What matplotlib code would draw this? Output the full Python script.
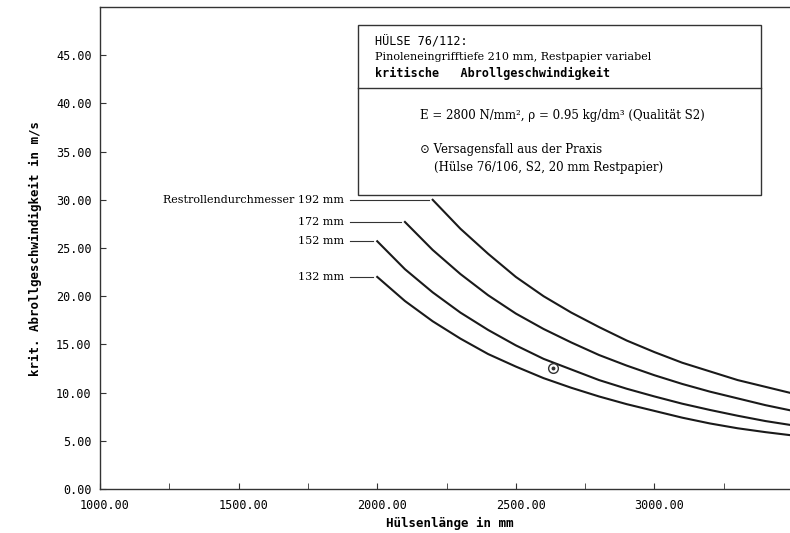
import matplotlib
matplotlib.use("Agg")
import matplotlib.pyplot as plt
import matplotlib.transforms as mtransforms
from matplotlib.patches import Rectangle
from matplotlib.lines import Line2D

# ---- data ----
x_192 = [2200, 2300, 2400, 2500, 2600, 2700, 2800, 2900, 3000, 3100, 3200, 3300, 3400, 3500]
y_192 = [30.0, 27.0, 24.4, 22.0, 20.0, 18.3, 16.8, 15.4, 14.2, 13.1, 12.2, 11.3, 10.6, 9.9]

x_172 = [2100, 2200, 2300, 2400, 2500, 2600, 2700, 2800, 2900, 3000, 3100, 3200, 3300, 3400, 3500]
y_172 = [27.7, 24.8, 22.3, 20.1, 18.2, 16.6, 15.2, 13.9, 12.8, 11.8, 10.9, 10.1, 9.4, 8.7, 8.1]

x_152 = [2000, 2100, 2200, 2300, 2400, 2500, 2600, 2700, 2800, 2900, 3000, 3100, 3200, 3300, 3400, 3500]
y_152 = [25.7, 22.8, 20.4, 18.3, 16.5, 14.9, 13.5, 12.4, 11.3, 10.4, 9.6, 8.85, 8.2, 7.6, 7.05, 6.6]

x_132 = [2000, 2100, 2200, 2300, 2400, 2500, 2600, 2700, 2800, 2900, 3000, 3100, 3200, 3300, 3400, 3500]
y_132 = [22.0, 19.5, 17.4, 15.6, 14.0, 12.7, 11.5, 10.5, 9.6, 8.8, 8.1, 7.4, 6.8, 6.3, 5.9, 5.55]

curve_labels = ["Restrollendurchmesser 192 mm", "172 mm", "152 mm", "132 mm"]

failure_x = [2635]
failure_y = [12.6]

x_ticks = [1000, 1500, 2000, 2500, 3000]
x_minor = [1250, 1750, 2250, 2750, 3250]
y_ticks = [0, 5, 10, 15, 20, 25, 30, 35, 40, 45]

W, H = 790, 533
fig = plt.figure(figsize=(W / 100, H / 100), dpi=100)
# axes: left 100px, top 7px, bottom 489px, right beyond image
ax = fig.add_axes([100 / W, (H - 489) / H, 700 / W, (489 - 7) / H])
ax.set_xlim(1000, 3525)
ax.set_ylim(0, 50)

mono = "DejaVu Sans Mono"
serif = "DejaVu Serif"

ax.spines["right"].set_visible(False)
for s in ["left", "bottom", "top"]:
    ax.spines[s].set_linewidth(1.0)
    ax.spines[s].set_color("#333333")

ax.set_xticks(x_ticks)
ax.set_xticklabels([f"{v:.2f}" for v in x_ticks], family=mono, fontsize=8.5)
ax.set_xticks(x_minor, minor=True)
ax.set_yticks(y_ticks)
ax.set_yticklabels([f"{v:.2f}" for v in y_ticks], family=mono, fontsize=8.5)
ax.tick_params(axis="both", which="both", direction="in", length=4, color="#333333")
ax.tick_params(axis="x", pad=7)
ax.tick_params(axis="y", pad=6)
shift = mtransforms.ScaledTranslation(5 / 100, 0, fig.dpi_scale_trans)
for lab in ax.get_xticklabels():
    lab.set_transform(lab.get_transform() + shift)

ax.set_xlabel("Hülsenlänge in mm", family=mono, fontweight="bold", fontsize=9, labelpad=4)
ax.set_ylabel("krit. Abrollgeschwindigkeit in m/s", family=mono, fontweight="bold",
              fontsize=9, labelpad=10)

lw = 1.5
for xs, ys in [(x_192, y_192), (x_172, y_172), (x_152, y_152), (x_132, y_132)]:
    ax.plot(xs, ys, color="#1a1a1a", lw=lw, solid_joinstyle="round")

# leader lines and labels
starts = [(x_192[0], y_192[0]), (x_172[0], y_172[0]), (x_152[0], y_152[0]), (x_132[0], y_132[0])]
for lab, (sx, sy) in zip(curve_labels, starts):
    ax.plot([1900, sx - 15], [sy, sy], color="#333333", lw=0.8)
    ax.text(1880, sy, lab, family=serif, fontsize=8, ha="right", va="center")

# failure case marker
ax.plot(failure_x, failure_y, marker="o", ms=7, mfc="white", mec="#333333", mew=1.0, ls="none")
ax.plot(failure_x, failure_y, marker="o", ms=1.8, color="#333333", ls="none")

# info box (figure pixel positions)
def fx(px):
    return px / W

def fy(py):
    return 1 - py / H

box = Rectangle((fx(358), fy(195)), fx(761) - fx(358), fy(25) - fy(195),
                transform=fig.transFigure, fill=True, facecolor="white",
                edgecolor="#333333", lw=1.0, zorder=5)
fig.patches.append(box)
fig.lines.append(Line2D([fx(358), fx(761)], [fy(88), fy(88)], transform=fig.transFigure,
                        color="#333333", lw=1.0, zorder=6))

fig.text(fx(375), fy(42), "HÜLSE 76/112:", family=mono, fontsize=8.5, va="center", zorder=7)
fig.text(fx(375), fy(57), "Pinoleneingrifftiefe 210 mm, Restpapier variabel", family=serif,
         fontsize=8, va="center", zorder=7)
fig.text(fx(375), fy(73), "kritische   Abrollgeschwindigkeit", family=mono, fontweight="bold",
         fontsize=8.5, va="center", zorder=7)
fig.text(fx(420), fy(116), "E = 2800 N/mm², ρ = 0.95 kg/dm³ (Qualität S2)", family=serif,
         fontsize=8.5, va="center", zorder=7)
fig.text(fx(420), fy(150), "⊙ Versagensfall aus der Praxis", family=serif,
         fontsize=8.5, va="center", zorder=7)
fig.text(fx(434), fy(167), "(Hülse 76/106, S2, 20 mm Restpapier)", family=serif,
         fontsize=8.5, va="center", zorder=7)

fig.savefig("out.png", dpi=100)
